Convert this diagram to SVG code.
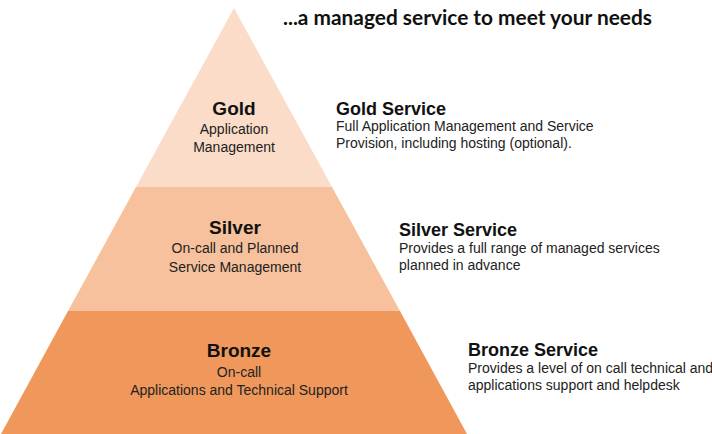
<svg xmlns="http://www.w3.org/2000/svg" width="712" height="434" viewBox="0 0 712 434">
  <style>
    .tier-title { font-family: "Liberation Sans", Arial, sans-serif; font-weight: bold; font-size: 19px; fill: #111; text-anchor: middle; }
    .tier-sub { font-family: "Liberation Sans", Arial, sans-serif; font-size: 14px; fill: #222; text-anchor: middle; }
    .svc-title { font-family: "Liberation Sans", Arial, sans-serif; font-weight: bold; font-size: 18px; fill: #111; }
    .svc-desc { font-family: "Liberation Sans", Arial, sans-serif; font-size: 14px; fill: #222; }
    .heading { font-family: Lato, "Open Sans", sans-serif; font-weight: bold; font-size: 20px; fill: #111; }
  </style>
  <rect width="712" height="434" fill="#ffffff"/>
  <text class="heading" x="283" y="25" textLength="369" lengthAdjust="spacingAndGlyphs">...a managed service to meet your needs</text>

  <g id="gold">
    <polygon points="234,8 332,187 136,187" fill="#FADCC8"/>
    <text class="tier-title" x="234" y="115">Gold</text>
    <text class="tier-sub" x="234" y="134">Application</text>
    <text class="tier-sub" x="234" y="152">Management</text>
  </g>
  <g id="silver">
    <polygon points="136,187 332,187 400,311 68,311" fill="#F6C19C"/>
    <text class="tier-title" x="235" y="234">Silver</text>
    <text class="tier-sub" x="235" y="253">On-call and Planned</text>
    <text class="tier-sub" x="235" y="272">Service Management</text>
  </g>
  <g id="bronze">
    <polygon points="68,311 400,311 467,434 1,434" fill="#F0985B"/>
    <text class="tier-title" x="239" y="357">Bronze</text>
    <text class="tier-sub" x="239" y="377">On-call</text>
    <text class="tier-sub" x="239" y="395">Applications and Technical Support</text>
  </g>

  <g id="gold-service">
    <text class="svc-title" x="336" y="115">Gold Service</text>
    <text class="svc-desc" x="336" y="131">Full Application Management and Service</text>
    <text class="svc-desc" x="336" y="148">Provision, including hosting (optional).</text>
  </g>
  <g id="silver-service">
    <text class="svc-title" x="399" y="236">Silver Service</text>
    <text class="svc-desc" x="399" y="253">Provides a full range of managed services</text>
    <text class="svc-desc" x="399" y="270">planned in advance</text>
  </g>
  <g id="bronze-service">
    <text class="svc-title" x="468" y="356">Bronze Service</text>
    <text class="svc-desc" x="468" y="373">Provides a level of on call technical and</text>
    <text class="svc-desc" x="468" y="390">applications support and helpdesk</text>
  </g>
  <g id="connectors"/>
</svg>
